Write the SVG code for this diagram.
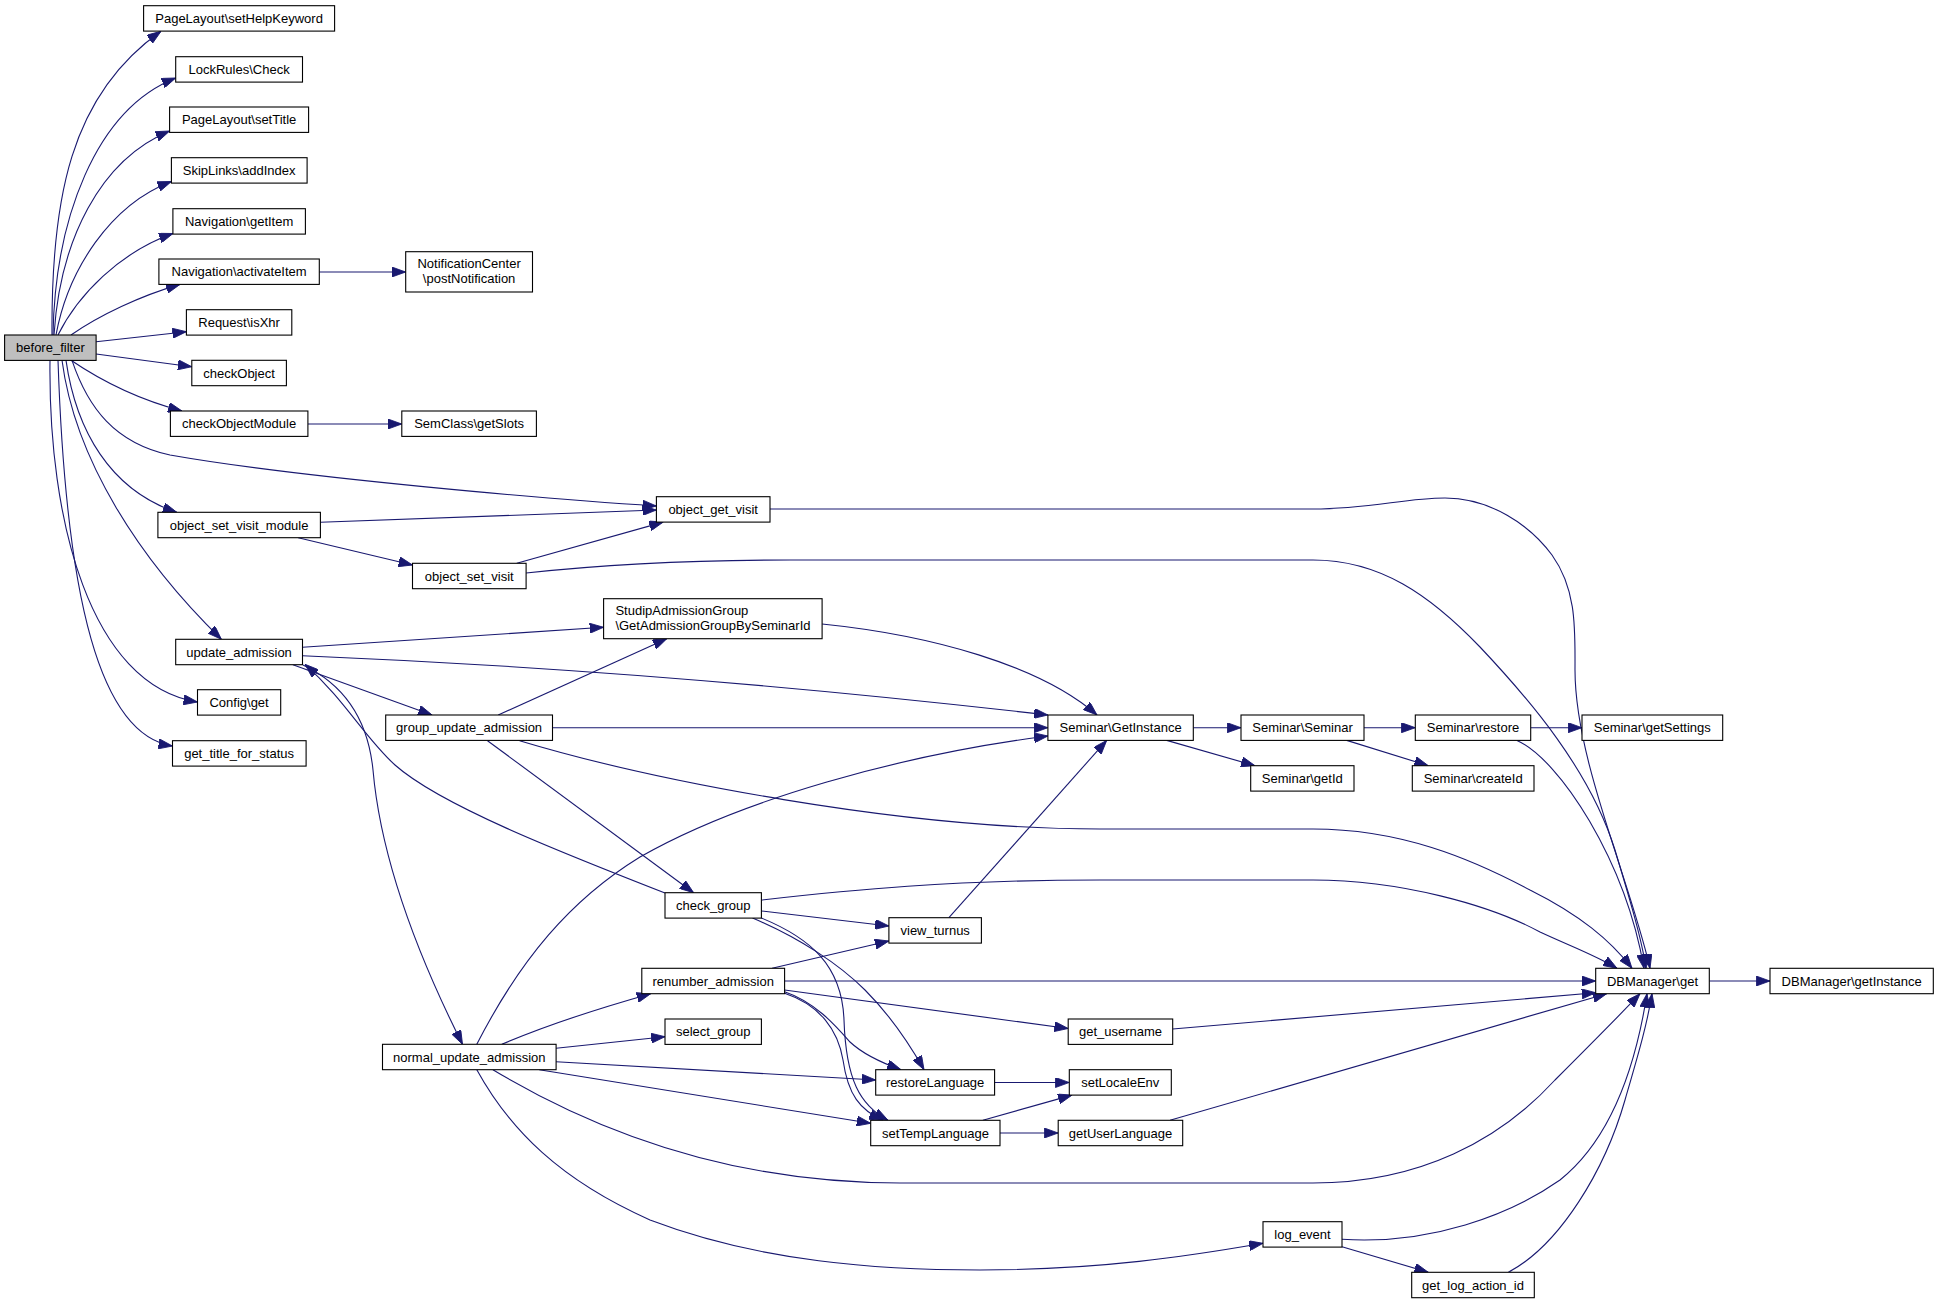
<svg xmlns="http://www.w3.org/2000/svg" width="1939" height="1304" viewBox="0 0 1939 1304">
<defs>
<marker id="arr" markerUnits="userSpaceOnUse" markerWidth="14" markerHeight="10" viewBox="0 0 13 9.4" refX="13" refY="4.7" orient="auto">
<path d="M0,0 L13,4.7 L0,9.4 z" fill="#191970" stroke="#191970" stroke-width="0.8"/>
</marker>
</defs>
<style>
.n rect{fill:#fff;stroke:#000;stroke-width:1.1}
.n.root rect{fill:#bfbfbf}
.n text{font-family:"Liberation Sans",Arial,Helvetica,sans-serif;font-size:13px;fill:#000;text-anchor:middle}
.n text.l{text-anchor:start}
.e path{fill:none;stroke:#191970;stroke-width:1.1;marker-end:url(#arr)}
</style>
<rect x="0" y="0" width="1939" height="1304" fill="#fff"/>
<g id="edges" class="e">
<path d="M52,335 C51,200 70,95 161,31.3"/>
<path d="M53,335 C55,220 95,110 175.7,78"/>
<path d="M54,335 C60,240 100,160 169.6,131"/>
<path d="M56,335 C68,270 110,205 171.4,181.5"/>
<path d="M58,335 C78,295 120,252 173,233.5"/>
<path d="M71,335 C100,315 140,296 180,284.4"/>
<path d="M96.1,341.7 L186.4,331.7"/>
<path d="M96.1,354 L191.8,366.7"/>
<path d="M71,360.3 C100,380 140,400 182,411"/>
<path d="M72,360.3 C88,408 115,443 170,455 C300,478 560,500 656.4,506"/>
<path d="M66,360.3 C76,430 110,490 176.8,512.3"/>
<path d="M62,360.3 C75,460 140,560 221.4,639.3"/>
<path d="M50,360.3 C48,520 90,685 197.5,702"/>
<path d="M58,360.3 C66,600 100,735 172.5,746"/>
<path d="M319.3,272 L405.7,272"/>
<path d="M307.9,424 L401.8,424"/>
<path d="M320.4,522.3 L656.4,510"/>
<path d="M298.2,537.7 L412.5,565"/>
<path d="M516.8,563.3 L663.2,522.1"/>
<path d="M526.1,573 C600,565 700,560 790,560 L1313,560 C1380,560 1430,595 1480,647 C1530,700 1590,770 1615,850 C1630,900 1642,940 1646,968.3"/>
<path d="M770,509 L1313,509 C1370,509 1405,498 1445,498 C1490,498 1530,525 1552,555 C1577,590 1575,630 1575,670 C1575,760 1630,880 1650,968.3"/>
<path d="M302.5,647.3 L603.6,627.3"/>
<path d="M302.5,655.7 C600,668 850,692 1047.9,715"/>
<path d="M292.9,664.7 L432.1,715"/>
<path d="M303,665 C345,685 368,720 373,770 C380,850 410,940 462.5,1044.3"/>
<path d="M498.2,715 L666.8,638.7"/>
<path d="M552.5,727.7 L1047.9,727.7"/>
<path d="M487.5,740.7 L693.6,892.7"/>
<path d="M519.6,740.7 C650,780 900,829 1100,829 L1313,829 C1400,829 1470,858 1530,890 C1580,915 1610,940 1632,968.3"/>
<path d="M822.1,624 C930,635 1040,665 1097,715"/>
<path d="M665,893 C560,852 440,805 395,765 C365,738 345,700 305,664.3"/>
<path d="M761.4,900 C850,890 950,880 1100,880 L1313,880 C1400,880 1490,905 1540,932 C1570,946 1595,955 1617,968.3"/>
<path d="M761.4,911 L888.9,926"/>
<path d="M752.5,918 C800,938 840,965 865,990 C890,1015 910,1045 924,1069.7"/>
<path d="M761.4,918 C810,938 842,965 844,1020 C846,1080 860,1105 888,1120.3"/>
<path d="M948.9,917.7 L1106.7,740.4"/>
<path d="M772.1,968.3 L888.9,941"/>
<path d="M784.6,981 L1595.7,981"/>
<path d="M784.6,990 L1068.2,1028.5"/>
<path d="M784.6,991.7 C815,1002 835,1025 850,1042 C865,1056 885,1064 901,1069.7"/>
<path d="M784.6,993.3 C820,1005 838,1030 843,1060 C848,1095 860,1110 883,1120.3"/>
<path d="M501.8,1044.3 C540,1028 600,1008 650.7,993.7"/>
<path d="M556,1048.3 L665,1036.7"/>
<path d="M556,1061.7 L875.7,1080"/>
<path d="M539.3,1069.7 L870.7,1123.3"/>
<path d="M492.9,1069.7 C560,1110 700,1183 900,1183 L1313,1183 C1420,1183 1500,1140 1555,1080 C1590,1045 1620,1015 1640,993.7"/>
<path d="M476.8,1069.7 C510,1130 560,1180 650,1220 C760,1262 880,1270 980,1270 C1100,1270 1190,1256 1263,1243.3"/>
<path d="M476.8,1044.3 C520,960 570,900 640,857 C740,800 900,755 1047.9,736"/>
<path d="M994.6,1082.5 L1069.3,1082.5"/>
<path d="M982.9,1120.3 L1072,1095.1"/>
<path d="M1000,1133 L1058.2,1133"/>
<path d="M1172.7,1029 L1595.7,992.7"/>
<path d="M1170,1120.3 L1606.7,993.7"/>
<path d="M1342,1239.3 C1430,1245 1510,1215 1560,1180 C1610,1140 1635,1070 1647,993.7"/>
<path d="M1342,1246.7 L1428.3,1272.3"/>
<path d="M1508.3,1272.3 C1560,1245 1605,1170 1625,1100 C1638,1055 1647,1025 1652,993.7"/>
<path d="M1517,740.4 C1560,760 1625,860 1644,968.3"/>
<path d="M1193.3,727.7 L1241,727.7"/>
<path d="M1166.7,740.4 L1255,765.7"/>
<path d="M1364,727.7 L1415.3,727.7"/>
<path d="M1346.7,740.4 L1428.3,765.7"/>
<path d="M1530.7,727.7 L1582,727.7"/>
<path d="M1709.3,981 L1770,981"/>
</g>
<g id="n_setHelpKeyword" class="n"><rect x="143.6" y="5.7" width="191" height="25.4"/><text x="239.1" y="22.9">PageLayout\setHelpKeyword</text></g>
<g id="n_LockRules_Check" class="n"><rect x="175.7" y="56.7" width="126.8" height="25.4"/><text x="239.1" y="73.9">LockRules\Check</text></g>
<g id="n_setTitle" class="n"><rect x="169.6" y="107" width="139" height="25.4"/><text x="239.1" y="124.2">PageLayout\setTitle</text></g>
<g id="n_addIndex" class="n"><rect x="171.4" y="157.7" width="135.7" height="25.4"/><text x="239.1" y="174.9">SkipLinks\addIndex</text></g>
<g id="n_getItem" class="n"><rect x="172.9" y="208.7" width="132.5" height="25.4"/><text x="239.1" y="225.9">Navigation\getItem</text></g>
<g id="n_activateItem" class="n"><rect x="158.9" y="259" width="160.4" height="25.4"/><text x="239.1" y="276.2">Navigation\activateItem</text></g>
<g id="n_postNotification" class="n"><rect x="405.7" y="251.7" width="126.8" height="40.3"/><text x="469.1" y="267.5">NotificationCenter</text><text x="469.1" y="282.5">\postNotification</text></g>
<g id="n_isXhr" class="n"><rect x="186.4" y="309.7" width="105.4" height="25.4"/><text x="239.1" y="326.9">Request\isXhr</text></g>
<g id="n_before_filter" class="n root"><rect x="4.6" y="335" width="91.5" height="25.4"/><text x="50.4" y="352.2">before_filter</text></g>
<g id="n_checkObject" class="n"><rect x="191.8" y="360.3" width="94.6" height="25.4"/><text x="239.1" y="377.5">checkObject</text></g>
<g id="n_checkObjectModule" class="n"><rect x="170.4" y="411" width="137.5" height="25.4"/><text x="239.1" y="428.2">checkObjectModule</text></g>
<g id="n_getSlots" class="n"><rect x="401.8" y="411" width="134.6" height="25.4"/><text x="469.1" y="428.2">SemClass\getSlots</text></g>
<g id="n_object_set_visit_module" class="n"><rect x="157.9" y="512.3" width="162.5" height="25.4"/><text x="239.1" y="529.5">object_set_visit_module</text></g>
<g id="n_object_get_visit" class="n"><rect x="656.4" y="496.7" width="113.6" height="25.4"/><text x="713.2" y="513.9">object_get_visit</text></g>
<g id="n_object_set_visit" class="n"><rect x="412.5" y="563.3" width="113.6" height="25.4"/><text x="469.3" y="580.5">object_set_visit</text></g>
<g id="n_GetAdmissionGroupBySeminarId" class="n"><rect x="603.6" y="598.7" width="218.5" height="40"/><text class="l" x="615.4" y="614.5">StudipAdmissionGroup</text><text class="l" x="615.4" y="629.5">\GetAdmissionGroupBySeminarId</text></g>
<g id="n_update_admission" class="n"><rect x="175.7" y="639.3" width="126.8" height="25.4"/><text x="239.1" y="656.5">update_admission</text></g>
<g id="n_Config_get" class="n"><rect x="197.5" y="689.7" width="83.2" height="25.4"/><text x="239.1" y="706.9">Config\get</text></g>
<g id="n_group_update_admission" class="n"><rect x="385.7" y="715" width="166.8" height="25.4"/><text x="469.1" y="732.2">group_update_admission</text></g>
<g id="n_Seminar_GetInstance" class="n"><rect x="1047.9" y="715" width="145.4" height="25.4"/><text x="1120.6" y="732.2">Seminar\GetInstance</text></g>
<g id="n_Seminar_Seminar" class="n"><rect x="1241" y="715" width="123" height="25.4"/><text x="1302.5" y="732.2">Seminar\Seminar</text></g>
<g id="n_Seminar_restore" class="n"><rect x="1415.3" y="715" width="115.4" height="25.4"/><text x="1473" y="732.2">Seminar\restore</text></g>
<g id="n_Seminar_getSettings" class="n"><rect x="1582" y="715" width="140.7" height="25.4"/><text x="1652.3" y="732.2">Seminar\getSettings</text></g>
<g id="n_get_title_for_status" class="n"><rect x="172.5" y="740.7" width="133.6" height="25.4"/><text x="239.1" y="757.9">get_title_for_status</text></g>
<g id="n_Seminar_getId" class="n"><rect x="1250.7" y="765.7" width="103.3" height="25.4"/><text x="1302.3" y="782.9">Seminar\getId</text></g>
<g id="n_Seminar_createId" class="n"><rect x="1412.3" y="765.7" width="121.7" height="25.4"/><text x="1473.2" y="782.9">Seminar\createId</text></g>
<g id="n_check_group" class="n"><rect x="665" y="892.7" width="96.4" height="25.4"/><text x="713.2" y="909.9">check_group</text></g>
<g id="n_view_turnus" class="n"><rect x="888.9" y="917.7" width="92.5" height="25.4"/><text x="935.2" y="934.9">view_turnus</text></g>
<g id="n_renumber_admission" class="n"><rect x="641.8" y="968.3" width="142.8" height="25.4"/><text x="713.2" y="985.5">renumber_admission</text></g>
<g id="n_DBManager_get" class="n"><rect x="1595.7" y="968.3" width="113.6" height="25.4"/><text x="1652.5" y="985.5">DBManager\get</text></g>
<g id="n_DBManager_getInstance" class="n"><rect x="1770" y="968.3" width="163.3" height="25.4"/><text x="1851.7" y="985.5">DBManager\getInstance</text></g>
<g id="n_select_group" class="n"><rect x="665" y="1019" width="96.4" height="25.4"/><text x="713.2" y="1036.2">select_group</text></g>
<g id="n_get_username" class="n"><rect x="1068.2" y="1019" width="104.5" height="25.4"/><text x="1120.5" y="1036.2">get_username</text></g>
<g id="n_normal_update_admission" class="n"><rect x="382.5" y="1044.3" width="173.6" height="25.4"/><text x="469.3" y="1061.5">normal_update_admission</text></g>
<g id="n_restoreLanguage" class="n"><rect x="875.7" y="1069.7" width="118.9" height="25.4"/><text x="935.2" y="1086.9">restoreLanguage</text></g>
<g id="n_setLocaleEnv" class="n"><rect x="1069.3" y="1069.7" width="102" height="25.4"/><text x="1120.3" y="1086.9">setLocaleEnv</text></g>
<g id="n_setTempLanguage" class="n"><rect x="870.7" y="1120.3" width="129.3" height="25.4"/><text x="935.4" y="1137.5">setTempLanguage</text></g>
<g id="n_getUserLanguage" class="n"><rect x="1058.2" y="1120.3" width="124.5" height="25.4"/><text x="1120.5" y="1137.5">getUserLanguage</text></g>
<g id="n_log_event" class="n"><rect x="1263" y="1221.7" width="79" height="25.4"/><text x="1302.5" y="1238.9">log_event</text></g>
<g id="n_get_log_action_id" class="n"><rect x="1411.7" y="1272.3" width="122.6" height="25.4"/><text x="1473" y="1289.5">get_log_action_id</text></g>
</svg>
